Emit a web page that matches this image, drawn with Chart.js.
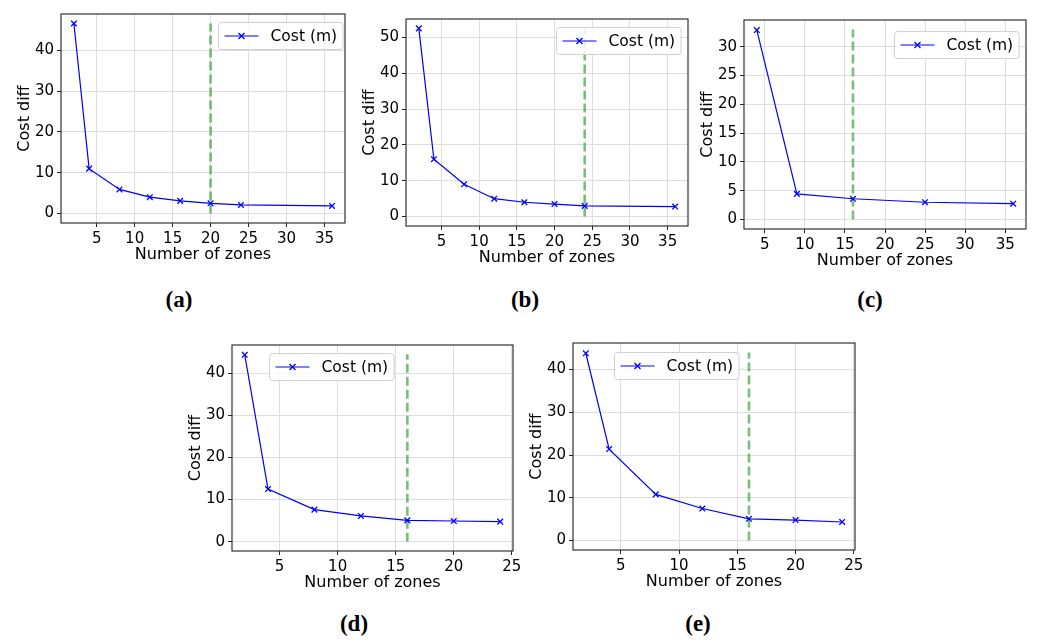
<!DOCTYPE html>
<html>
<head>
<meta charset="utf-8">
<script src="https://cdn.jsdelivr.net/npm/chart.js"></script>
<style>
  body { margin: 0; background: #fff; width: 1037px; height: 640px; position: relative; overflow: hidden; }
  .panel { position: absolute; }
  .cap { position: absolute; font-family: 'Liberation Serif', 'DejaVu Serif', serif; font-weight: bold; font-size: 23px; transform: translate(-50%, -50%); color: #000; }
</style>
</head>
<body>
<script>
  // values
  const zonesA = [2, 4, 8, 12, 16, 20, 24, 36];
  const costA = [46.6, 11.0, 5.9, 4.0, 3.1, 2.5, 2.1, 1.85];
  const zonesB = [2, 4, 8, 12, 16, 20, 24, 36];
  const costB = [52.5, 16.0, 9.0, 5.0, 4.0, 3.5, 3.0, 2.8];
  const zonesC = [4, 9, 16, 25, 36];
  const costC = [32.9, 4.45, 3.6, 3.0, 2.75];
  const zonesD = [2, 4, 8, 12, 16, 20, 24];
  const costD = [44.4, 12.5, 7.6, 6.1, 5.05, 4.9, 4.75];
  const zonesE = [2, 4, 8, 12, 16, 20, 24];
  const costE = [43.8, 21.4, 10.8, 7.5, 5.1, 4.8, 4.35];

  // green dashed cut-off line: x position and top
  const cutX = [20, 24, 16, 16, 16];
  const cutTop = [46.6, 52.5, 33.0, 44.5, 44.0];

  const xTicksWide = [5, 10, 15, 20, 25, 30, 35];
  const xTicksNarrow = [5, 10, 15, 20, 25];
  const yTicksA = [0, 10, 20, 30, 40];
  const yTicksB = [0, 10, 20, 30, 40, 50];
  const yTicksC = [0, 5, 10, 15, 20, 25, 30];

  const captions = ['(a)', '(b)', '(c)', '(d)', '(e)'];
  const seriesLabel = 'Cost (m)';
  const xTitle = 'Number of zones';
  const yTitle = 'Cost diff';

  Chart.defaults.font.family = "'DejaVu Sans', sans-serif";
  Chart.defaults.color = '#000';

  const AXIS_W = 46, AXIS_H = 42, PAD_T = 8, PAD_R = 14;

  // box = plot area [left, top, right, bottom] in page pixels
  const panels = [
    { zones: zonesA, cost: costA, xTicks: xTicksWide, yTicks: yTicksA, box: [61, 10, 345, 223], legend: [157, 8], cap: [179, 300] },
    { zones: zonesB, cost: costB, xTicks: xTicksWide, yTicks: yTicksB, box: [406, 15, 688, 226], legend: [150, 8], cap: [525, 300] },
    { zones: zonesC, cost: costC, xTicks: xTicksWide, yTicks: yTicksC, box: [744, 16, 1026, 229], legend: [150, 11], cap: [870, 300] },
    { zones: zonesD, cost: costD, xTicks: xTicksNarrow, yTicks: yTicksA, box: [232, 341, 513, 551], legend: [37, 8], cap: [354, 624] },
    { zones: zonesE, cost: costE, xTicks: xTicksNarrow, yTicks: yTicksA, box: [573, 339, 855, 550], legend: [41, 9], cap: [698, 624] }
  ];

  // frame round the axes plus a matplotlib-like legend inside the plot
  const deco = {
    id: 'deco',
    afterDatasetsDraw(chart, args, opts) {
      const ctx = chart.ctx;
      const a = chart.chartArea;
      ctx.save();
      ctx.strokeStyle = '#333';
      ctx.lineWidth = 1.2;
      ctx.strokeRect(a.left, a.top, a.right - a.left, a.bottom - a.top);

      const label = chart.data.datasets[0].label;
      ctx.font = "15.5px 'DejaVu Sans'";
      const tw = ctx.measureText(label).width;
      const bx = a.left + opts.x + 0.5, by = a.top + opts.y + 0.5;
      const bw = 6 + 34 + 12 + tw + 6, bh = 27;
      ctx.beginPath();
      ctx.roundRect(bx, by, bw, bh, 3);
      ctx.fillStyle = 'rgba(255,255,255,0.85)';
      ctx.fill();
      ctx.strokeStyle = '#d0d0d0';
      ctx.lineWidth = 1;
      ctx.stroke();

      const cy = by + bh / 2;
      ctx.strokeStyle = '#0000ff';
      ctx.lineWidth = 1.2;
      ctx.beginPath();
      ctx.moveTo(bx + 6, cy);
      ctx.lineTo(bx + 40, cy);
      ctx.stroke();
      const mx = bx + 23, r = 3;
      ctx.lineWidth = 1.3;
      ctx.beginPath();
      ctx.moveTo(mx - r, cy - r); ctx.lineTo(mx + r, cy + r);
      ctx.moveTo(mx - r, cy + r); ctx.lineTo(mx + r, cy - r);
      ctx.stroke();

      ctx.fillStyle = '#000';
      ctx.textBaseline = 'middle';
      ctx.textAlign = 'left';
      ctx.fillText(label, bx + 52, cy + 1);
      ctx.restore();
    }
  };

  panels.forEach(function(p, i) {
    const [l, t, r, b] = p.box;
    const w = (r - l) + AXIS_W + PAD_R;
    const h = (b - t) + PAD_T + AXIS_H;

    const div = document.createElement('div');
    div.className = 'panel';
    div.style.left = (l - AXIS_W) + 'px';
    div.style.top = (t - PAD_T) + 'px';
    const canvas = document.createElement('canvas');
    canvas.width = w;
    canvas.height = h;
    div.appendChild(canvas);
    document.body.appendChild(div);

    const cap = document.createElement('div');
    cap.className = 'cap';
    cap.style.left = p.cap[0] + 'px';
    cap.style.top = p.cap[1] + 'px';
    cap.textContent = captions[i];
    document.body.appendChild(cap);

    // matplotlib style 5% margins
    const zMin = Math.min(...p.zones), zMax = Math.max(...p.zones);
    const xPad = (zMax - zMin) * 0.05;
    const yPad = cutTop[i] * 0.05;

    const gridColor = '#dedede';

    new Chart(canvas, {
      type: 'line',
      data: {
        datasets: [
          {
            label: seriesLabel,
            data: p.zones.map((z, k) => ({ x: z, y: p.cost[k] })),
            borderColor: '#0000ff',
            borderWidth: 1.2,
            pointStyle: 'crossRot',
            pointRadius: 4,
            pointBorderWidth: 1.3,
            pointBorderColor: '#0000ff',
            tension: 0,
            fill: false
          },
          {
            label: 'cut',
            data: [{ x: cutX[i], y: 0 }, { x: cutX[i], y: cutTop[i] }],
            borderColor: 'rgba(44,160,44,0.65)',
            borderWidth: 2.6,
            borderDash: [9, 4],
            pointRadius: 0,
            fill: false
          }
        ]
      },
      options: {
        responsive: false,
        animation: false,
        events: [],
        layout: { padding: { left: 0, top: PAD_T, right: PAD_R, bottom: 0 } },
        plugins: {
          legend: { display: false },
          tooltip: { enabled: false },
          deco: { x: p.legend[0], y: p.legend[1] }
        },
        scales: {
          x: {
            type: 'linear',
            min: zMin - xPad,
            max: zMax + xPad,
            afterBuildTicks: s => { s.ticks = p.xTicks.map(v => ({ value: v })); },
            afterFit: s => { s.height = AXIS_H; },
            grid: { color: gridColor, lineWidth: 1, drawTicks: true, tickLength: 4, tickColor: '#222' },
            border: { display: false },
            ticks: { color: '#000', font: { size: 15 }, padding: 3, maxRotation: 0, autoSkip: false },
            title: { display: true, text: xTitle, color: '#000', font: { size: 16 }, padding: { top: 0, bottom: 1 } }
          },
          y: {
            type: 'linear',
            min: -yPad,
            max: cutTop[i] + yPad,
            afterBuildTicks: s => { s.ticks = p.yTicks.map(v => ({ value: v })); },
            afterFit: s => { s.width = AXIS_W; },
            grid: { color: gridColor, lineWidth: 1, drawTicks: true, tickLength: 4, tickColor: '#222' },
            border: { display: false },
            ticks: { color: '#000', font: { size: 15 }, padding: 3 },
            title: { display: true, text: yTitle, color: '#000', font: { size: 16 }, padding: { top: 0, bottom: 0 } }
          }
        }
      },
      plugins: [deco]
    });
  });
</script>
</body>
</html>
